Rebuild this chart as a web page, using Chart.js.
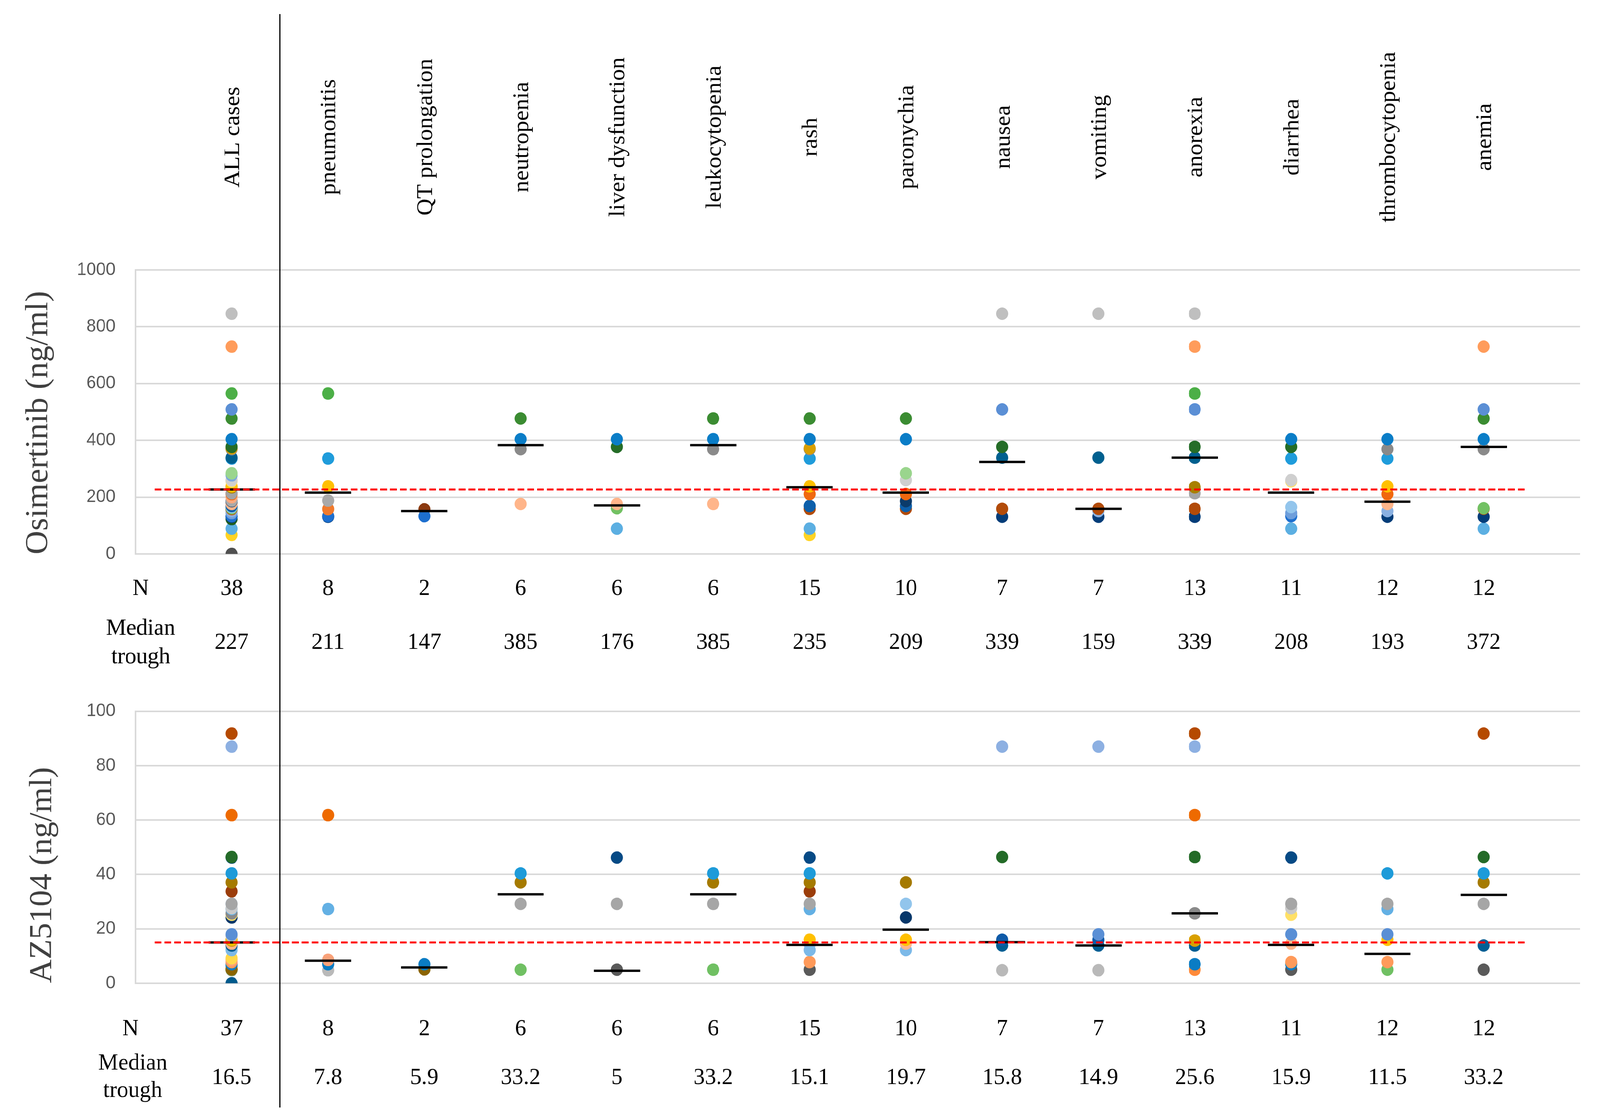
<!DOCTYPE html>
<html>
<head>
<meta charset="utf-8">
<script src="https://cdn.jsdelivr.net/npm/chart.js@4.4.1/dist/chart.umd.min.js"></script>
<style>
html, body { margin: 0; padding: 0; background: #fff; overflow: hidden; }
#page { position: relative; width: 4242px; height: 2867px; transform-origin: 0 0; }
.box { position: absolute; left: 0; width: 4242px; }
#topBox { top: 0; height: 1740px; }
#botBox { top: 1740px; height: 1127px; }
</style>
</head>
<body>
<div id="page">
    <div class="box" id="topBox"><canvas id="osiChart"></canvas></div>
    <div class="box" id="botBox"><canvas id="azChart"></canvas></div>
</div>
<script>
// categories (x = 1..14)
var categories = ['ALL cases', 'pneumonitis', 'QT prolongation', 'neutropenia', 'liver dysfunction',
    'leukocytopenia', 'rash', 'paronychia', 'nausea', 'vomiting', 'anorexia', 'diarrhea',
    'thrombocytopenia', 'anemia'];

// Osimertinib: one trough value per patient series
var osiTrough = [846, 730, 565, 509, 477, 404, 377, 372, 369, 339, 336, 284, 277, 260, 256, 238, 235, 214,
    211, 200, 188, 186, 176, 169, 165, 161, 159, 158, 151, 144, 133, 131, 123, 89, 67, 0, 157, 180];
// patients shown in each adverse-event column (ALL cases = everybody)
var osiMembers = [
    null,
    [2, 10, 15, 20, 27, 30, 31],
    [36, 30],
    [4, 5, 8, 22],
    [5, 6, 22, 25, 33],
    [4, 5, 8, 22],
    [4, 5, 7, 8, 10, 15, 18, 23, 26, 33, 34],
    [4, 5, 11, 13, 18, 21, 23, 26],
    [0, 3, 6, 9, 26, 31],
    [0, 9, 26, 28, 31],
    [0, 1, 2, 3, 6, 9, 16, 17, 26, 31],
    [5, 6, 10, 13, 14, 24, 29, 30, 33],
    [5, 8, 10, 15, 18, 22, 28, 31],
    [1, 3, 4, 5, 8, 25, 26, 31, 33]
];
var osiN = [38, 8, 2, 6, 6, 6, 15, 10, 7, 7, 13, 11, 12, 12];
var osiMedian = ['227', '211', '147', '385', '176', '385', '235', '209', '339', '159', '339', '208', '193', '372'];
var osiMedianMark = [227, 216, 151, 383, 171, 383, 235, 216, 324, 159, 339, 216, 184, 377];
var osiRef = 227;
var osiTicks = [0, 200, 400, 600, 800, 1000];

// AZ5104
var azTrough = [91.8, 87.0, 61.8, 46.4, 46.2, 40.4, 37.1, 33.8, 29.2, 29.2, 27.6, 27.3, 25.7, 25.2, 24.2,
    18.0, 17.4, 16.0, 16.0, 15.7, 14.6, 13.9, 12.2, 9.2, 8.6, 7.8, 7.0, 5.1, 5.0, 5.0, 4.8, 5.0, 0,
    14.3, 5.3, 12.8, 6.2];
var azMembers = [
    null,
    [2, 11, 24, 26, 30],
    [26, 27],
    [5, 6, 8, 28],
    [4, 8, 29],
    [5, 6, 8, 28],
    [4, 5, 6, 7, 8, 11, 17, 33, 22, 25, 29],
    [6, 9, 14, 17, 20, 22],
    [1, 3, 18, 21, 30],
    [1, 15, 18, 21, 30],
    [0, 1, 2, 3, 12, 19, 21, 26, 31],
    [4, 8, 10, 13, 15, 20, 25, 26, 29],
    [5, 8, 11, 15, 17, 25, 28],
    [0, 3, 5, 6, 8, 21, 29]
];
var azN = [37, 8, 2, 6, 6, 6, 15, 10, 7, 7, 13, 11, 12, 12];
var azMedian = ['16.5', '7.8', '5.9', '33.2', '5', '33.2', '15.1', '19.7', '15.8', '14.9', '25.6', '15.9', '11.5', '33.2'];
var azMedianMark = [15.0, 8.3, 5.8, 32.7, 4.6, 32.7, 14.1, 19.7, 15.1, 13.9, 25.7, 14.1, 10.8, 32.5];
var azRef = 15.0;
var azTicks = [0, 20, 40, 60, 80, 100];

// series colours
var osiColors = ['#bfbfbf', '#ff9c5b', '#4caf47', '#5b8fd5', '#3b8c32', '#0a7dc7', '#256d28', '#d99f00',
    '#8a8a8a', '#00608f', '#1f9cdb', '#9ad58d', '#79a7de', '#cfcfcf', '#ffdf6b', '#ffc000', '#a88000',
    '#a3a3a3', '#f0680e', '#f9a87d', '#a9a9a9', '#0b3b6b', '#ffb58a', '#0d5faa', '#93c5ec', '#72c163',
    '#b24b09', '#f07a2c', '#89b0e1', '#6e9edb', '#1d6fcf', '#033d79', '#1f5d21', '#5cafe2', '#ffd324',
    '#505050', '#8b3a10', '#1b4f8c'];
var azColors = ['#b54a00', '#8db0e2', '#ee6a00', '#246b28', '#064a85', '#1e9bd9', '#a57a00', '#9b3d0a',
    '#a6a6a6', '#92c5ec', '#c9c9c9', '#63b0e4', '#8a8a8a', '#ffe066', '#07376a', '#5a8fd5', '#c0c0c0',
    '#ffc000', '#0f5aa8', '#d9a000', '#ffb58a', '#005f94', '#7cb9e8', '#ffd84a', '#f9a27a', '#ff9a5a',
    '#0a7cc4', '#8b6400', '#70c063', '#5a5a5a', '#b9b9b9', '#ff8a3a', '#005a8c', '#9cc3e6', '#f7a26f',
    '#a9c8ea', '#1e80c8'];

var SERIF = '"Liberation Serif", "Times New Roman", serif';

// the page is laid out at 4242x2867 and fitted to whatever viewport we get
document.getElementById('page').style.transform =
    'scale(' + (window.innerWidth / 4242) + ',' + (window.innerHeight / 2867) + ')';

function buildDatasets(trough, colors, members, marks, refValue) {
    var sets = [];
    sets.push({
        type: 'line', data: [{x: 0.2, y: refValue}, {x: 14.45, y: refValue}],
        borderColor: '#ff0000', borderWidth: 5, borderDash: [18, 8], borderCapStyle: 'butt',
        pointRadius: 0, fill: false, order: 0
    });
    var md = [];
    marks.forEach(function (v, i) {
        md.push({x: i + 1 - 0.24, y: v}, {x: i + 1 + 0.24, y: v}, {x: i + 1.5, y: null});
    });
    sets.push({
        type: 'line', data: md, borderColor: '#000', borderWidth: 6, pointRadius: 0,
        spanGaps: false, fill: false, order: 1
    });
    trough.forEach(function (v, p) {
        var pts = [];
        members.forEach(function (list, c) {
            if (list === null || list.indexOf(p) >= 0) pts.push({x: c + 1, y: v});
        });
        sets.push({
            type: 'scatter', data: pts, backgroundColor: colors[p], borderWidth: 0,
            pointRadius: 16, pointHoverRadius: 16, order: 2
        });
    });
    return sets;
}

function tableText(ctx, xs, nVals, medVals, pos) {
    ctx.fillStyle = '#000';
    ctx.font = '60px ' + SERIF;
    ctx.textAlign = 'center';
    ctx.textBaseline = 'alphabetic';
    ctx.fillText('N', pos.labelX, pos.nY);
    ctx.fillText('Median', pos.medLabelX, pos.medY1);
    ctx.fillText('trough', pos.medLabelX, pos.medY2);
    for (var i = 0; i < xs.length; i++) {
        ctx.fillText(String(nVals[i]), xs[i], pos.nY);
        ctx.fillText(medVals[i], xs[i], pos.valY);
    }
}

function yTitle(ctx, text, x, y) {
    ctx.save();
    ctx.translate(x, y);
    ctx.rotate(-Math.PI / 2);
    ctx.fillStyle = '#404040';
    ctx.font = '84px ' + SERIF;
    ctx.textAlign = 'center';
    ctx.textBaseline = 'alphabetic';
    ctx.fillText(text, 0, 0);
    ctx.restore();
}

function divider(chart, y0, y1) {
    var ctx = chart.ctx;
    var x = chart.scales.x.getPixelForValue(1.5);
    ctx.save();
    ctx.strokeStyle = '#000';
    ctx.lineWidth = 4;
    ctx.beginPath();
    ctx.moveTo(x, y0);
    ctx.lineTo(x, y1);
    ctx.stroke();
    ctx.restore();
}

function catXs(chart) {
    return categories.map(function (c, i) { return chart.scales.x.getPixelForValue(i + 1); });
}

var osiText = {
    id: 'osiText',
    afterDraw: function (chart) {
        var ctx = chart.ctx;
        var xs = catXs(chart);
        ctx.save();
        ctx.fillStyle = '#000';
        ctx.font = '60px ' + SERIF;
        ctx.textAlign = 'center';
        ctx.textBaseline = 'middle';
        categories.forEach(function (c, i) {
            ctx.save();
            ctx.translate(xs[i] + 4, 351);
            ctx.rotate(-Math.PI / 2);
            ctx.fillText(c, 0, 0);
            ctx.restore();
        });
        tableText(ctx, xs, osiN, osiMedian,
            {labelX: 373, medLabelX: 373, nY: 1523, medY1: 1625, medY2: 1698, valY: 1661});
        yTitle(ctx, 'Osimertinib (ng/ml)', 125, 1082);
        ctx.restore();
        divider(chart, 36, chart.height);
    }
};

var azText = {
    id: 'azText',
    afterDraw: function (chart) {
        var ctx = chart.ctx;
        var xs = catXs(chart);
        ctx.save();
        tableText(ctx, xs, azN, azMedian,
            {labelX: 346, medLabelX: 352, nY: 910, medY1: 998, medY2: 1068, valY: 1035});
        yTitle(ctx, 'AZ5104 (ng/ml)', 136, 500);
        ctx.restore();
        divider(chart, 0, 1095);
    }
};

function makeOptions(maxY, step, pad) {
    return {
        responsive: true,
        maintainAspectRatio: false,
        animation: false,
        events: [],
        layout: {padding: pad},
        plugins: {legend: {display: false}, tooltip: {enabled: false}},
        scales: {
            x: {type: 'linear', min: 0, max: 15, display: false},
            y: {
                min: 0, max: maxY,
                ticks: {
                    stepSize: step, color: '#595959', padding: 53,
                    font: {family: '"Liberation Sans", Arial, sans-serif', size: 46},
                    callback: function (v) { return String(v); }
                },
                grid: {color: '#d9d9d9', lineWidth: 4, drawTicks: false},
                border: {color: '#d9d9d9', width: 4},
                afterFit: function (s) { s.width = 359; }
            }
        }
    };
}

new Chart(document.getElementById('osiChart').getContext('2d'), {
    type: 'scatter',
    data: {datasets: buildDatasets(osiTrough, osiColors, osiMembers, osiMedianMark, osiRef)},
    options: makeOptions(osiTicks[osiTicks.length - 1], osiTicks[1] - osiTicks[0],
        {left: 0, right: 53, top: 691, bottom: 322}),
    plugins: [osiText]
});

new Chart(document.getElementById('azChart').getContext('2d'), {
    type: 'scatter',
    data: {datasets: buildDatasets(azTrough, azColors, azMembers, azMedianMark, azRef)},
    options: makeOptions(azTicks[azTicks.length - 1], azTicks[1] - azTicks[0],
        {left: 0, right: 53, top: 51, bottom: 350}),
    plugins: [azText]
});
</script>
</body>
</html>
